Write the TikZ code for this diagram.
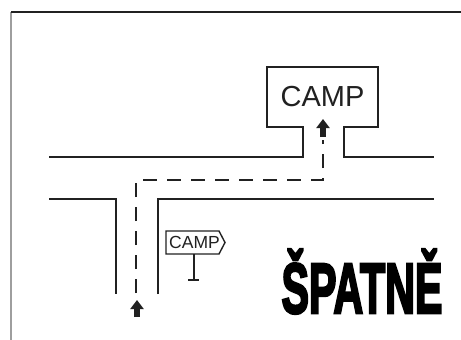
\documentclass[tikz,border=0pt]{standalone}
\usepackage{fontspec}
\setmainfont{Liberation Sans}
\newfontfamily\verdictfont[FakeBold=4]{Liberation Sans Bold}
\usetikzlibrary{arrows.meta}
\definecolor{inkblack}{gray}{0.13}
\definecolor{framegray}{gray}{0.62}
\tikzset{road/.style={draw=inkblack,line width=2.6pt},
  route/.style={draw=inkblack,line width=2.4pt,dash pattern=on 14pt off 10pt},
  go/.style={draw=inkblack,line width=6pt,-{Triangle[width=13pt,length=9pt]}},
  label/.style={text=inkblack,inner sep=0pt},  }

\begin{document}
\begin{tikzpicture}[x=1pt,y=-1pt]
    \useasboundingbox (0,0) rectangle (461,340);
    \fill[white] (0,0) rectangle (461,340);
    \draw[framegray,line width=1.5pt] (11,12) -- (11,340);
    \draw[inkblack,line width=1.2pt] (11,12) -- (461,12);

    % road and camp outline
    \coordinate (rtop west) at (49,157);
    \coordinate (gate wl) at (303,157);
    \coordinate (camp bl) at (303,127);
    \coordinate (camp sw) at (267,127);
    \coordinate (camp nw) at (267,67);
    \coordinate (camp ne) at (378,67);
    \coordinate (camp se) at (378,127);
    \coordinate (camp br) at (344,127);
    \coordinate (gate wr) at (344,157);
    \coordinate (rtop east) at (434,157);
    \draw[road,line join=miter] (rtop west) -- (gate wl) -- (camp bl) -- (camp sw) -- (camp nw)
        -- (camp ne) -- (camp se) -- (camp br) -- (gate wr) -- (rtop east);

    \coordinate (rlow west) at (49,199);
    \coordinate (side wl) at (116,199);
    \coordinate (side bl) at (116,294);
    \coordinate (side br) at (158,294);
    \coordinate (side wr) at (158,199);
    \coordinate (rlow east) at (434,199);
    \draw[road] (rlow west) -- (side wl) -- (side bl);
    \draw[road] (side br) -- (side wr) -- (rlow east);

    % dashed way
    \coordinate (way start) at (136,293);
    \coordinate (way turn) at (136,180);
    \coordinate (way bend) at (323,180);
    \coordinate (way end) at (323,140);
    \draw[route] (way start) -- (way turn) -- (way bend) -- (way end);

    \coordinate (arrow a) at (137,317);
    \coordinate (arrow b) at (137,300);
    \coordinate (arrow c) at (323,137);
    \coordinate (arrow d) at (323,119);
    \draw[go] (arrow a) -- (arrow b);
    \draw[go] (arrow c) -- (arrow d);

    \node[label,font=\fontsize{29}{29}\selectfont] (camp) at (322.5,97) {CAMP};

    % small sign
    \coordinate (sign nw) at (166,231);
    \coordinate (sign n) at (219,231);
    \coordinate (sign tip) at (225,242.5);
    \coordinate (sign s) at (219,254);
    \coordinate (sign sw) at (166,254);
    \draw[inkblack,line width=1.4pt] (sign nw) -- (sign n) -- (sign tip) -- (sign s) -- (sign sw) -- cycle;
    \node[label,font=\fontsize{17.5}{18}\selectfont] (sign) at (194.5,242.5) {CAMP};
    \coordinate (post top) at (194,254);
    \coordinate (post low) at (194,280);
    \coordinate (foot l) at (188,280);
    \coordinate (foot r) at (199,280);
    \draw[inkblack,line width=1.4pt] (post top) -- (post low);
    \draw[inkblack,line width=1.4pt] (foot l) -- (foot r);

    \node[label,font=\verdictfont\fontsize{71}{71}\selectfont,xscale=0.58,anchor=base,text=black] (verdict) at (362,313) {ŠPATNĚ};
\end{tikzpicture}
\end{document}
